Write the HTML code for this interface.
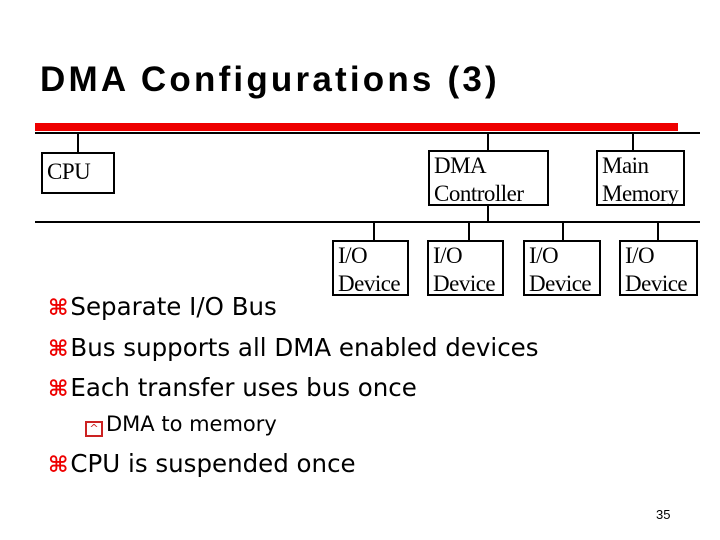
<!DOCTYPE html>
<html><head><style>
body{margin:0;width:720px;height:540px;background:#fff;position:relative;overflow:hidden;font-family:"Liberation Sans",sans-serif}
.a{position:absolute}
.box{position:absolute;border:2px solid #000;box-sizing:border-box;font-family:"Liberation Serif",serif;font-size:23px;line-height:28px;padding:0 0 0 4px;white-space:nowrap;letter-spacing:-0.5px}
.l{position:absolute;background:#000}
.b{position:absolute;left:48px;font-family:"DejaVu Sans",sans-serif;font-size:24.5px;white-space:nowrap}
.b span{color:#e00;font-size:22px;font-weight:bold;margin-right:2px}
</style></head><body>
<div class="a" style="left:40px;top:60px;font-size:35px;font-weight:bold;letter-spacing:3.2px;white-space:nowrap">DMA Configurations (3)</div>
<div class="a" style="left:35px;top:123px;width:643px;height:8px;background:#e00"></div>
<div class="l" style="left:35px;top:132px;width:665px;height:2px"></div>
<div class="l" style="left:77px;top:133px;width:2px;height:20px"></div>
<div class="l" style="left:487px;top:133px;width:2px;height:18px"></div>
<div class="l" style="left:632px;top:133px;width:2px;height:18px"></div>
<div class="box" style="left:41px;top:152px;width:74px;height:42px;padding-top:4px">CPU</div>
<div class="box" style="left:428px;top:150px;width:121px;height:56px">DMA<br>Controller</div>
<div class="box" style="left:596px;top:150px;width:89px;height:56px">Main<br>Memory</div>
<div class="l" style="left:487px;top:205px;width:2px;height:18px"></div>
<div class="l" style="left:35px;top:221px;width:665px;height:2px"></div>
<div class="l" style="left:373px;top:222px;width:2px;height:19px"></div>
<div class="l" style="left:468px;top:222px;width:2px;height:19px"></div>
<div class="l" style="left:562px;top:222px;width:2px;height:19px"></div>
<div class="l" style="left:657px;top:222px;width:2px;height:19px"></div>
<div class="box" style="left:332px;top:240px;width:77px;height:56px">I/O<br>Device</div>
<div class="box" style="left:427px;top:240px;width:77px;height:56px">I/O<br>Device</div>
<div class="box" style="left:523px;top:240px;width:78px;height:56px">I/O<br>Device</div>
<div class="box" style="left:619px;top:240px;width:79px;height:56px">I/O<br>Device</div>
<div class="b" style="top:292px"><span>⌘</span>Separate I/O Bus</div>
<div class="b" style="top:333px"><span>⌘</span>Bus supports all DMA enabled devices</div>
<div class="b" style="top:373px"><span>⌘</span>Each transfer uses bus once</div>
<div class="a" style="left:85px;top:412px;font-family:'DejaVu Sans',sans-serif;font-size:21px;white-space:nowrap"><span style="display:inline-block;width:18px;height:16px;border:2px solid #c22;box-sizing:border-box;margin-right:3px;vertical-align:-1px;font-size:11px;color:#c22;text-align:center;line-height:12px">^</span>DMA to memory</div>
<div class="b" style="top:449px"><span>⌘</span>CPU is suspended once</div>
<div class="a" style="left:656px;top:507px;font-size:13px">35</div>
</body></html>
